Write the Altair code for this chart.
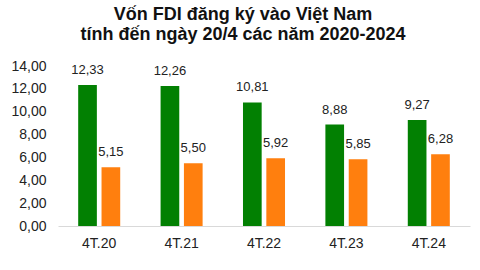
import altair as alt
import pandas as pd

periods = ["4T.20", "4T.21", "4T.22", "4T.23", "4T.24"]
series_names = ["A", "B"]
values_a = [12.33, 12.26, 10.81, 8.88, 9.27]
values_b = [5.15, 5.50, 5.92, 5.85, 6.28]
y_ticks = [0, 2, 4, 6, 8, 10, 12, 14]

rows = []
for p, a, b in zip(periods, values_a, values_b):
    rows.append({"period": p, "series": "A", "value": a})
    rows.append({"period": p, "series": "B", "value": b})
df = pd.DataFrame(rows)

x = alt.X("period:N", sort=periods, title=None,
          scale=alt.Scale(paddingInner=0.49, paddingOuter=0.245),
          axis=alt.Axis(labelAngle=0, labelFontSize=14, labelFont="Liberation Sans",
                        labelColor="#222222", labelPadding=10, ticks=False,
                        domainColor="#d9d9d9", domainWidth=1))
xo = alt.XOffset("series:N", sort=series_names,
                 scale=alt.Scale(paddingInner=0.2, paddingOuter=0))
y = alt.Y("value:Q", title=None,
          scale=alt.Scale(domain=[0, 14], nice=False),
          axis=alt.Axis(values=y_ticks, grid=False, domain=False, ticks=False,
                        labelOverlap=False, labelFontSize=14, labelFont="Liberation Sans",
                        labelColor="#222222", labelPadding=12, labelBound=False,
                        labelExpr="replace(format(datum.value, '.2f'), '.', ',')"))
color = alt.Color("series:N", sort=series_names, legend=None,
                  scale=alt.Scale(domain=series_names, range=["#028002", "#ff7f0e"]))

base = alt.Chart(df).encode(x=x, xOffset=xo, y=y)
bars = base.mark_bar().encode(color=color)
labels = base.transform_calculate(
    lbl="replace(format(datum.value, '.2f'), '.', ',')"
).mark_text(dy=-15, fontSize=13, font="Liberation Sans", color="#222222").encode(
    text="lbl:N")

chart = (bars + labels).properties(
    width=412, height=160,
    padding={"left": 58, "top": 66, "right": 10, "bottom": 44},
    autosize=alt.AutoSizeParams(type="none"),
    title=alt.TitleParams(
        text=["Vốn FDI đăng ký vào Việt Nam", "tính đến ngày 20/4 các năm 2020-2024"],
        font="Liberation Sans", fontSize=18, fontWeight="bold", color="#111111",
        anchor="middle", dx=-21, offset=15, lineHeight=20),
).configure_view(stroke=None).configure_axis(labelOverlap=False)

chart.save("out.html", embed_options={"renderer": "svg", "actions": False})
